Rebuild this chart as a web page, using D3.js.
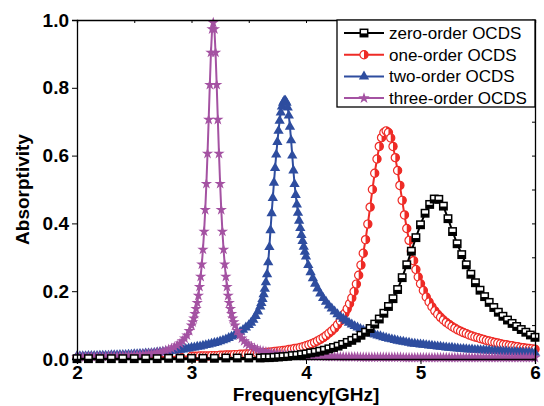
<!DOCTYPE html>
<html>
<head>
<meta charset="utf-8">
<script src="https://cdn.jsdelivr.net/npm/d3@7"></script>
<style>
body { margin: 0; background: #fff; }
text { font-family: Arial, "Liberation Sans", sans-serif; }
</style>
</head>
<body>
<div id="canvas"></div>
<script>
// frequency in GHz, absorptivity
const seriesNames = ["zero-order OCDS", "one-order OCDS", "two-order OCDS", "three-order OCDS"];
const xTicks = [2, 3, 4, 5, 6];
const yTicks = [0, 0.2, 0.4, 0.6, 0.8, 1.0];

const zeroOrder = [
  [2.0,0.001],[2.1,0.001],[2.2,0.001],[2.3,0.001],[2.4,0.001],[2.5,0.001],[2.6,0.001],[2.7,0.001],
  [2.8,0.002],[2.9,0.002],[3.0,0.002],[3.1,0.002],[3.2,0.002],[3.3,0.003],[3.4,0.003],[3.5,0.003],
  [3.6,0.003],[3.64,0.004],[3.68,0.004],[3.72,0.005],[3.76,0.006],[3.80,0.007],[3.84,0.008],[3.88,0.010],
  [3.92,0.011],[3.96,0.013],[4.00,0.015],[4.04,0.018],[4.08,0.020],[4.12,0.023],[4.16,0.026],[4.20,0.030],
  [4.24,0.034],[4.28,0.038],[4.32,0.043],[4.36,0.049],[4.40,0.055],[4.44,0.062],[4.48,0.070],[4.52,0.079],
  [4.56,0.090],[4.60,0.103],[4.64,0.118],[4.68,0.135],[4.72,0.155],[4.76,0.178],[4.80,0.205],[4.84,0.240],
  [4.88,0.278],[4.92,0.318],[4.96,0.358],[5.00,0.396],[5.04,0.430],[5.08,0.456],[5.12,0.472],[5.16,0.471],
  [5.20,0.451],[5.24,0.414],[5.28,0.376],[5.32,0.340],[5.36,0.308],[5.40,0.278],[5.44,0.250],[5.48,0.225],
  [5.52,0.203],[5.56,0.184],[5.60,0.167],[5.64,0.152],[5.68,0.138],[5.72,0.126],[5.76,0.115],[5.80,0.105],
  [5.84,0.096],[5.88,0.087],[5.92,0.079],[5.96,0.071],[6.00,0.064]
];

const oneOrder = [
  [2.0,0.003],[2.1,0.003],[2.2,0.004],[2.3,0.004],[2.4,0.004],[2.5,0.005],[2.6,0.005],[2.7,0.006],
  [2.8,0.006],[2.9,0.007],[3.000,0.008],[3.025,0.008],[3.050,0.008],[3.075,0.009],[3.100,0.009],
  [3.125,0.009],[3.150,0.009],[3.175,0.010],[3.200,0.010],[3.225,0.010],[3.250,0.011],[3.275,0.011],
  [3.300,0.012],[3.325,0.012],[3.350,0.012],[3.375,0.013],[3.400,0.013],[3.425,0.014],[3.450,0.014],
  [3.475,0.015],[3.500,0.015],[3.525,0.016],[3.550,0.016],[3.575,0.017],[3.600,0.018],[3.625,0.018],
  [3.650,0.019],[3.675,0.020],[3.700,0.021],[3.725,0.022],[3.750,0.023],[3.775,0.024],[3.800,0.025],
  [3.825,0.026],[3.850,0.028],[3.875,0.029],[3.900,0.031],[3.925,0.032],[3.950,0.034],[3.975,0.036],
  [4.000,0.039],[4.025,0.042],[4.050,0.045],[4.075,0.049],[4.100,0.053],[4.125,0.058],[4.150,0.063],
  [4.175,0.069],[4.200,0.076],[4.225,0.083],[4.250,0.091],[4.275,0.101],[4.30,0.112],[4.32,0.123],
  [4.34,0.135],[4.36,0.148],[4.38,0.163],[4.40,0.180],[4.42,0.199],[4.44,0.221],[4.46,0.247],[4.48,0.277],
  [4.50,0.312],[4.52,0.352],[4.54,0.398],[4.56,0.448],[4.58,0.500],[4.60,0.548],[4.62,0.590],[4.64,0.627],
  [4.66,0.653],[4.68,0.668],[4.70,0.673],[4.72,0.668],[4.74,0.652],[4.76,0.627],[4.78,0.594],[4.80,0.556],
  [4.82,0.512],[4.84,0.468],[4.86,0.425],[4.88,0.385],[4.90,0.350],[4.92,0.318],[4.94,0.290],[4.96,0.264],
  [4.98,0.242],[5.000,0.222],[5.025,0.202],[5.050,0.183],[5.075,0.168],[5.100,0.154],[5.125,0.142],
  [5.150,0.132],[5.175,0.123],[5.200,0.115],[5.225,0.108],[5.250,0.102],[5.275,0.096],[5.300,0.091],
  [5.325,0.086],[5.350,0.082],[5.375,0.078],[5.400,0.075],[5.425,0.071],[5.450,0.068],[5.475,0.065],
  [5.500,0.063],[5.525,0.060],[5.550,0.058],[5.575,0.055],[5.600,0.053],[5.625,0.051],[5.650,0.049],
  [5.675,0.047],[5.700,0.045],[5.725,0.043],[5.750,0.042],[5.775,0.040],[5.800,0.039],[5.825,0.037],
  [5.850,0.036],[5.875,0.034],[5.900,0.033],[5.925,0.032],[5.950,0.031],[5.975,0.030],[6.000,0.029]
];

const twoOrder = [
  [2.000,0.008],[2.025,0.008],[2.050,0.008],[2.075,0.008],[2.100,0.009],[2.125,0.009],[2.150,0.009],
  [2.175,0.009],[2.200,0.010],[2.225,0.010],[2.250,0.010],[2.275,0.010],[2.300,0.011],[2.325,0.011],
  [2.350,0.011],[2.375,0.012],[2.400,0.012],[2.425,0.012],[2.450,0.013],[2.475,0.013],[2.500,0.014],
  [2.525,0.014],[2.550,0.015],[2.575,0.015],[2.600,0.016],[2.625,0.016],[2.650,0.017],[2.675,0.018],
  [2.700,0.019],[2.725,0.020],[2.750,0.021],[2.775,0.022],[2.800,0.023],[2.825,0.024],[2.850,0.025],
  [2.875,0.026],[2.900,0.027],[2.925,0.028],[2.950,0.030],[2.975,0.031],[3.000,0.033],[3.025,0.034],
  [3.050,0.036],[3.075,0.037],[3.100,0.039],[3.125,0.041],[3.150,0.043],[3.175,0.045],[3.200,0.047],
  [3.225,0.049],[3.250,0.052],[3.275,0.055],[3.300,0.058],[3.325,0.062],[3.350,0.066],[3.375,0.070],
  [3.400,0.075],[3.425,0.080],[3.450,0.086],[3.475,0.093],[3.500,0.100],[3.52,0.107],[3.54,0.116],
  [3.56,0.127],[3.58,0.140],[3.60,0.155],[3.61,0.165],[3.62,0.177],[3.63,0.191],[3.64,0.207],
  [3.65,0.226],[3.66,0.250],[3.67,0.285],[3.68,0.330],[3.69,0.380],[3.70,0.430],[3.71,0.475],[3.72,0.520],
  [3.73,0.563],[3.74,0.603],[3.75,0.640],[3.76,0.673],[3.77,0.703],[3.78,0.727],[3.79,0.745],[3.80,0.756],
  [3.81,0.762],[3.82,0.762],[3.83,0.756],[3.84,0.742],[3.85,0.718],[3.86,0.685],[3.87,0.645],[3.88,0.600],
  [3.89,0.556],[3.90,0.516],[3.91,0.484],[3.92,0.456],[3.93,0.431],[3.94,0.408],[3.95,0.386],[3.96,0.366],
  [3.97,0.348],[3.98,0.331],[3.99,0.316],[4.00,0.302],[4.02,0.277],[4.04,0.256],[4.06,0.238],[4.08,0.222],
  [4.100,0.208],[4.125,0.193],[4.150,0.180],[4.175,0.169],[4.200,0.158],[4.225,0.149],[4.250,0.140],
  [4.275,0.132],[4.300,0.125],[4.325,0.119],[4.350,0.113],[4.375,0.107],[4.400,0.102],[4.425,0.097],
  [4.450,0.093],[4.475,0.089],[4.500,0.085],[4.525,0.081],[4.550,0.078],[4.575,0.075],[4.600,0.072],
  [4.625,0.069],[4.650,0.067],[4.675,0.064],[4.700,0.062],[4.725,0.060],[4.750,0.058],[4.775,0.056],
  [4.800,0.054],[4.825,0.052],[4.850,0.051],[4.875,0.049],[4.900,0.048],[4.925,0.046],[4.950,0.045],
  [4.975,0.044],[5.000,0.043],[5.025,0.042],[5.050,0.041],[5.075,0.040],[5.100,0.039],[5.125,0.038],
  [5.150,0.037],[5.175,0.036],[5.200,0.035],[5.225,0.034],[5.250,0.033],[5.275,0.033],[5.300,0.032],
  [5.325,0.031],[5.350,0.030],[5.375,0.030],[5.400,0.029],[5.425,0.028],[5.450,0.028],[5.475,0.027],
  [5.500,0.027],[5.525,0.026],[5.550,0.026],[5.575,0.025],[5.600,0.025],[5.625,0.024],[5.650,0.024],
  [5.675,0.023],[5.700,0.023],[5.725,0.022],[5.750,0.022],[5.775,0.021],[5.800,0.021],[5.825,0.021],
  [5.850,0.020],[5.875,0.020],[5.900,0.019],[5.925,0.019],[5.950,0.019],[5.975,0.018],[6.000,0.018]
];

const threeOrder = [
  [2.000,0.006],[2.025,0.006],[2.050,0.006],[2.075,0.006],[2.100,0.006],[2.125,0.007],[2.150,0.007],
  [2.175,0.007],[2.200,0.007],[2.225,0.007],[2.250,0.007],[2.275,0.008],[2.300,0.008],[2.325,0.008],
  [2.350,0.008],[2.375,0.009],[2.400,0.009],[2.425,0.009],[2.450,0.010],[2.475,0.010],[2.500,0.011],
  [2.525,0.011],[2.550,0.012],[2.575,0.013],[2.600,0.014],[2.625,0.015],[2.650,0.016],[2.675,0.017],
  [2.700,0.019],[2.725,0.020],[2.750,0.022],[2.775,0.025],[2.800,0.028],[2.825,0.031],[2.850,0.035],
  [2.875,0.040],[2.90,0.046],[2.92,0.053],[2.94,0.061],[2.96,0.070],[2.98,0.083],[3.00,0.099],
  [3.01,0.109],[3.02,0.120],[3.03,0.133],[3.04,0.148],[3.05,0.166],[3.06,0.187],[3.07,0.213],[3.08,0.243],
  [3.09,0.279],[3.10,0.323],[3.11,0.376],[3.12,0.440],[3.13,0.517],[3.14,0.606],[3.15,0.706],[3.16,0.809],
  [3.17,0.904],[3.18,0.973],[3.19,0.992],[3.20,0.973],[3.21,0.904],[3.22,0.809],[3.23,0.706],[3.24,0.606],
  [3.25,0.517],[3.26,0.440],[3.27,0.376],[3.28,0.323],[3.29,0.279],[3.30,0.243],[3.31,0.213],[3.32,0.187],
  [3.33,0.166],[3.34,0.148],[3.35,0.133],[3.36,0.120],[3.37,0.109],[3.38,0.099],[3.40,0.083],[3.42,0.070],
  [3.44,0.061],[3.46,0.053],[3.48,0.046],[3.500,0.041],[3.525,0.036],[3.550,0.032],[3.575,0.028],
  [3.600,0.025],[3.625,0.023],[3.650,0.021],[3.675,0.019],[3.700,0.017],[3.725,0.016],[3.750,0.015],
  [3.775,0.014],[3.800,0.013],[3.825,0.012],[3.850,0.012],[3.875,0.011],[3.900,0.011],[3.925,0.010],
  [3.950,0.010],[3.975,0.009],[4.000,0.009],[4.025,0.009],[4.050,0.009],[4.075,0.008],[4.100,0.008],
  [4.125,0.008],[4.150,0.008],[4.175,0.007],[4.200,0.007],[4.225,0.007],[4.250,0.007],[4.275,0.007],
  [4.300,0.006],[4.325,0.006],[4.350,0.006],[4.375,0.006],[4.400,0.006],[4.425,0.006],[4.450,0.006],
  [4.475,0.005],[4.500,0.005],[4.525,0.005],[4.550,0.005],[4.575,0.005],[4.600,0.005],[4.625,0.005],
  [4.650,0.005],[4.675,0.005],[4.700,0.005],[4.725,0.005],[4.750,0.005],[4.775,0.005],[4.800,0.005],
  [4.825,0.005],[4.850,0.004],[4.875,0.004],[4.900,0.004],[4.925,0.004],[4.950,0.004],[4.975,0.004],
  [5.000,0.004],[5.025,0.004],[5.050,0.004],[5.075,0.004],[5.100,0.004],[5.125,0.004],[5.150,0.004],
  [5.175,0.004],[5.200,0.004],[5.225,0.004],[5.250,0.004],[5.275,0.004],[5.300,0.004],[5.325,0.004],
  [5.350,0.004],[5.375,0.004],[5.400,0.004],[5.425,0.004],[5.450,0.004],[5.475,0.004],[5.500,0.004],
  [5.525,0.004],[5.550,0.004],[5.575,0.004],[5.600,0.004],[5.625,0.004],[5.650,0.004],[5.675,0.004],
  [5.700,0.004],[5.725,0.004],[5.750,0.004],[5.775,0.004],[5.800,0.004],[5.825,0.004],[5.850,0.004],
  [5.875,0.004],[5.900,0.004],[5.925,0.004],[5.950,0.004],[5.975,0.004],[6.000,0.004]
];

const w = 544, h = 406;
const plotLeft = 77, plotRight = 535, plotTop = 20, plotBottom = 359;

const svg = d3.select("#canvas")
  .append("svg")
    .attr("width", w)
    .attr("height", h)
    .attr("viewBox", [0, 0, w, h]);

const x = d3.scaleLinear().domain([2, 6]).range([plotLeft, plotRight]);
const y = d3.scaleLinear().domain([0, 1]).range([plotBottom, plotTop]);

const styles = [
  {data: zeroOrder, color: "#000000", marker: "square"},
  {data: oneOrder, color: "#ee2b26", marker: "halfcircle"},
  {data: twoOrder, color: "#2e4d9f", marker: "triangle"},
  {data: threeOrder, color: "#a452a2", marker: "star"}
];

function drawMarker(g, type, color) {
  switch (type) {
    case "square":
      g.append("rect").attr("x", -3.7).attr("y", -3.7).attr("width", 7.4).attr("height", 7.4)
        .attr("fill", "#fff").attr("stroke", color).attr("stroke-width", 1.5);
      g.append("rect").attr("x", -3.7).attr("y", 0.4).attr("width", 7.4).attr("height", 3.3)
        .attr("fill", color);
      break;
    case "halfcircle":
      g.append("circle").attr("r", 4.1).attr("fill", "#fff").attr("stroke", color).attr("stroke-width", 1.2);
      g.append("path").attr("d", "M0,-4.1A4.1,4.1 0 0 1 0,4.1Z").attr("fill", color);
      break;
    case "triangle":
      g.append("path").attr("d", d3.symbol(d3.symbolTriangle, 46)()).attr("fill", color);
      break;
    case "star":
      g.append("path").attr("d", d3.symbol(d3.symbolStar, 40)()).attr("fill", color);
      break;
  }
}

const line = d3.line().x(d => x(d[0])).y(d => y(d[1]));

// draw order: red, blue, purple, black on top
[1, 2, 3, 0].forEach(i => {
  const s = styles[i];
  const g = svg.append("g");
  g.append("path")
    .datum(s.data)
    .attr("d", line)
    .attr("fill", "none")
    .attr("stroke", s.color)
    .attr("stroke-width", 2);
  g.selectAll("g.pt")
      .data(s.data)
    .enter().append("g")
      .attr("class", "pt")
      .attr("transform", d => "translate(" + x(d[0]) + "," + y(d[1]) + ")")
      .each(function() { drawMarker(d3.select(this), s.marker, s.color); });
});

// axes: major ticks out, minor ticks in, mirrored top/right ticks in
const minorY = d3.range(0.1, 1.0, 0.2);
const minorX = d3.range(2.5, 6, 1);

const gL = svg.append("g").attr("transform", "translate(" + plotLeft + ",0)");
gL.call(d3.axisLeft(y).tickValues(minorY).tickSize(-3).tickFormat(""));
gL.call(d3.axisLeft(y).tickValues(yTicks).tickSize(5).tickPadding(3).tickFormat(d3.format(".1f")));

const gB = svg.append("g").attr("transform", "translate(0," + plotBottom + ")");
gB.call(d3.axisBottom(x).tickValues(minorX).tickSize(-3).tickFormat(""));
gB.call(d3.axisBottom(x).tickValues(xTicks).tickSize(5).tickPadding(2).tickFormat(d3.format("d")));

const gT = svg.append("g").attr("transform", "translate(0," + plotTop + ")");
gT.call(d3.axisBottom(x).tickValues(d3.range(2, 6.01, 0.5)).tickSize(3).tickFormat(""));

const gR = svg.append("g").attr("transform", "translate(" + plotRight + ",0)");
gR.call(d3.axisLeft(y).tickValues(d3.range(0, 1.01, 0.1)).tickSize(3).tickFormat(""));

svg.selectAll(".domain").attr("stroke", "#000").attr("stroke-width", 1.3);
svg.selectAll(".tick line").attr("stroke", "#000").attr("stroke-width", 1);
svg.selectAll(".tick text")
  .attr("font-size", 19)
  .attr("font-weight", "bold")
  .attr("font-family", "Arial, 'Liberation Sans', sans-serif")
  .attr("fill", "#000");

// axis titles
svg.append("text")
  .attr("x", (plotLeft + plotRight) / 2)
  .attr("y", 401)
  .attr("text-anchor", "middle")
  .attr("font-size", 19)
  .attr("font-weight", "bold")
  .text("Frequency[GHz]");

svg.append("text")
  .attr("transform", "translate(29," + ((plotTop + plotBottom) / 2) + ") rotate(-90)")
  .attr("text-anchor", "middle")
  .attr("font-size", 19)
  .attr("font-weight", "bold")
  .text("Absorptivity");

// legend
const lg = svg.append("g");
lg.append("rect")
  .attr("x", 337).attr("y", plotTop)
  .attr("width", plotRight - 337).attr("height", 87)
  .attr("fill", "#fff")
  .attr("stroke", "#000")
  .attr("stroke-width", 1.3);

seriesNames.forEach((name, i) => {
  const s = styles[i];
  const ly = 33 + i * 21.7;
  lg.append("line")
    .attr("x1", 344).attr("x2", 384)
    .attr("y1", ly).attr("y2", ly)
    .attr("stroke", s.color).attr("stroke-width", 2);
  drawMarker(lg.append("g").attr("transform", "translate(364," + ly + ")"), s.marker, s.color);
  lg.append("text")
    .attr("x", 389).attr("y", ly)
    .attr("dy", "0.35em")
    .attr("font-size", 17)
    .text(name);
});
</script>
</body>
</html>
